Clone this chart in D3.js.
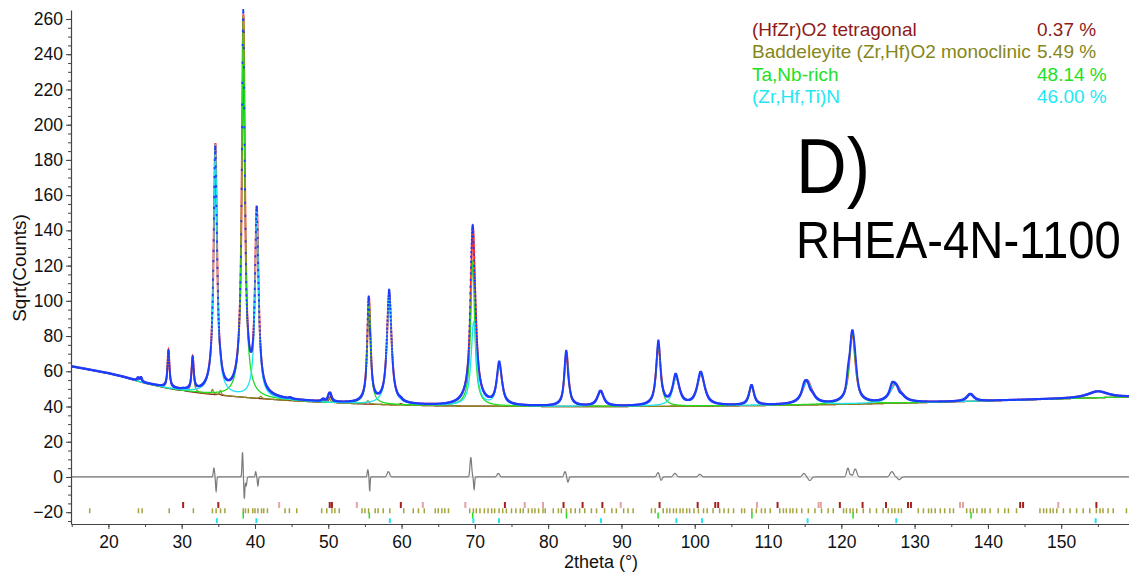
<!DOCTYPE html>
<html><head><meta charset="utf-8">
<script src="https://cdn.jsdelivr.net/npm/d3@7"></script>
<style>
body{margin:0;background:#fff}
svg text{font-family:"Liberation Sans",Arial,sans-serif;fill:#111}
</style>
</head><body>
<svg id="chart" width="1129" height="572"></svg>
<script>
// ---------------- data ----------------
const xDomain = [14.9, 159.25];
const yDomain = [-26.7, 265.1];
const xTickValues = [20,30,40,50,60,70,80,90,100,110,120,130,140,150];
const yTickValues = [-20,0,20,40,60,80,100,120,140,160,180,200,220,240,260];
const xTitle = "2theta (°)";
const yTitle = "Sqrt(Counts)";
const panelLabel = "D)";
const sampleLabel = "RHEA-4N-1100";

const phaseNames = ["(HfZr)O2 tetragonal","Baddeleyite (Zr,Hf)O2 monoclinic","Ta,Nb-rich","(Zr,Hf,Ti)N"];
const phasePercents = ["0.37 %","5.49 %","48.14 %","46.00 %"];

// background (2theta, sqrt counts)
const backgroundPts = [[14.9,62.8],[17,61.2],[20,58.8],[22,56.8],[25,53.2],[28,50.4],[30,49],[33,47.4],[36,46.1],[40,44.7],[45,43.3],[50,42.2],[55,41.4],[60,40.8],[65,40.4],[70,40.2],[80,40],[90,40],[100,40.2],[110,40.6],[120,41.2],[130,42.1],[140,43.2],[150,44.4],[159.25,45.5]];

// peaks: [2theta, top (sqrt counts), fwhm]
const peaksTetragonal = [[30.2,49.2,0.35],[35.1,47.2,0.4],[50.3,45.6,0.45],[59.9,41.6,0.5]];
const peaksMonoclinic = [[24.05,56,0.3],[24.45,56.2,0.3],[28.2,71.5,0.3],[31.5,67,0.32],[34.2,49.6,0.3],[35.3,49,0.3],[40.8,45.8,0.35],[44.8,44,0.4],[49.3,43.6,0.4],[50.1,45,0.4],[55.4,43.2,0.45]];
const peaksTaNb = [[38.42,262,0.36],[55.55,101,0.44],[69.7,122,0.52],[82.5,70.5,0.58],[95.05,74.5,0.66],[107.75,51.8,0.75],[121.5,82,0.85],[137.6,47,1.1]];
const peaksNitride = [[34.6,189,0.42],[40.25,151.5,0.45],[58.32,103.5,0.62],[69.85,88,0.72],[73.35,63,0.78],[87.15,48.6,0.95],[97.45,55.8,1.05],[100.85,58,1.15],[115.35,54.5,1.45],[127.4,52.5,1.7],[155,48.6,3.2]];

// difference features: [2theta, amplitude, half-width]
const diffFeatures = [[34.4,5,0.12],[34.7,-8,0.1],[38.3,14,0.1],[38.55,-12,0.1],[38.8,-5,0.12],[40.1,3,0.1],[40.4,-5,0.1],[55.4,4,0.12],[55.65,-8,0.08],[58.2,3,0.25],[69.45,11,0.16],[69.9,-7,0.1],[73.2,2,0.25],[82.3,3,0.2],[82.7,-3,0.15],[95.0,2.5,0.25],[95.4,-2,0.2],[97.3,2,0.3],[100.7,1.5,0.3],[114.9,2,0.3],[115.7,-2,0.3],[120.9,5,0.25],[121.35,1,0.12],[121.9,4.5,0.3],[126.9,3,0.35],[127.9,-1.5,0.3]];

// reflection tick positions
const ticksTetragonal = [[30.2,1],[35.0,1],[43.3,0],[50.2,1],[50.5,1],[53.9,0],[59.9,1],[62.9,0],[68.7,0],[74.1,1],[76.8,0],[79.3,0],[82.1,1],[84.7,1],[87.4,1],[89.9,0],[95.2,1],[100.4,1],[102.8,1],[103.2,1],[108.5,0],[111.3,1],[116.9,0],[117.2,0],[119.8,1],[122.9,1],[126.1,1],[129.1,1],[129.5,1],[136.2,0],[136.6,0],[144.4,1],[144.8,1],[149.6,0],[154.8,1]];
const ticksMonoclinic = [17.45,24.1,24.6,28.3,31.6,34.2,34.7,35.3,35.9,38.4,38.7,39.1,39.7,40.0,40.4,40.9,41.2,41.7,44.1,44.7,45.7,49.1,49.8,50.5,50.9,51.5,54.6,55.0,55.5,56.4,56.8,57.5,58.4,60.3,61.6,62.3,63.1,64.6,65.0,65.5,65.9,66.4,69.3,69.8,70.2,70.7,71.3,71.8,72.3,72.7,73.3,73.8,74.3,75.0,75.6,76.2,76.6,77.3,77.8,78.2,78.7,79.3,79.6,80.7,81.4,81.8,82.5,83.1,83.7,84.3,85.0,85.9,86.6,87.7,88.7,89.3,90.3,90.9,91.6,94.1,94.6,95.7,96.2,96.6,97.1,97.5,98.0,98.4,98.9,99.3,99.9,100.5,101.2,101.7,102.5,103.4,104.0,104.6,105.3,106.4,106.8,107.8,108.4,109.1,109.6,110.3,111.6,112.1,112.5,113.0,113.4,113.9,114.6,115.5,116.4,117.3,118.2,118.9,120.3,120.7,121.2,121.6,122.1,123.0,123.9,124.8,125.7,126.4,126.9,127.3,127.8,128.2,130.5,131.2,131.9,132.3,132.8,133.5,134.1,134.8,135.3,137.1,137.6,138.0,138.5,139.2,139.6,140.3,141.4,142.3,142.8,143.9,147.1,147.6,148.0,148.5,148.9,149.4,150.3,151.2,152.1,153.0,153.9,154.8,155.3,155.7,156.4,157.1,158.9];
const ticksTaNb = [38.4,55.6,69.7,82.5,95.0,107.8,121.6,137.7];
const ticksNitride = [34.8,40.2,58.4,69.8,73.3,87.2,97.5,101.0,115.4,127.5,154.7];

// ---------------- drawing ----------------
const colors = {tet:"#8e1b1b", mono:"#8a8a1c", tanb:"#22dd22", nit:"#1fe4f0", obs:"#1c3cff", calc:"#ff2a2a", diff:"#7a7a7a"};
const svg = d3.select("#chart");
const x = d3.scaleLinear().domain(xDomain).range([71,1129]);
const y = d3.scaleLinear().domain(yDomain).range([524,10]);

svg.append("defs").append("clipPath").attr("id","clip")
  .append("rect").attr("x",71).attr("y",8).attr("width",1058).attr("height",516);
const plot = svg.append("g").attr("clip-path","url(#clip)");

const bg = d3.scaleLinear().domain(backgroundPts.map(d=>d[0])).range(backgroundPts.map(d=>d[1]));
function shape(dx,w){const t=2*dx/w; return 0.85/(1+t*t)+0.15*Math.exp(-Math.LN2*t*t);}
function phaseCounts(peaks,t){
  let s=0;
  for(const [p,top,w] of peaks){const b=bg(p); const P=Math.max(0,top*top-b*b); s+=P*shape(t-p,w);}
  return s;
}
function diffAt(t){let s=0; for(const [p,a,w] of diffFeatures){const u=(t-p)/w; s+=a*Math.exp(-u*u);} return s;}

const grid = d3.range(xDomain[0], xDomain[1]+1e-9, 0.02);
const rows = grid.map(t=>{
  const b=bg(t), b2=b*b;
  const c1=phaseCounts(peaksTetragonal,t), c2=phaseCounts(peaksMonoclinic,t),
        c3=phaseCounts(peaksTaNb,t), c4=phaseCounts(peaksNitride,t);
  const calc=Math.sqrt(b2+c1+c2+c3+c4);
  const d=diffAt(t);
  return {t, bg:b, tet:Math.sqrt(b2+c1), mono:Math.sqrt(b2+c2), tanb:Math.sqrt(b2+c3), nit:Math.sqrt(b2+c4), calc, diff:d, obs:calc+d};
});

// difference zero line and curve
plot.append("line").attr("x1",71).attr("x2",1129).attr("y1",y(0)).attr("y2",y(0))
  .attr("stroke","#c8c8c8").attr("stroke-width",1);
plot.append("path").datum(rows).attr("fill","none").attr("stroke",colors.diff).attr("stroke-width",1.2)
  .attr("d",d3.line().x(d=>x(d.t)).y(d=>y(d.diff)));

// reflection ticks
const tickG = plot.append("g");
tickG.selectAll(".tt").data(ticksTetragonal).join("line")
  .attr("x1",d=>x(d[0])).attr("x2",d=>x(d[0])).attr("y1",y(-14.2)).attr("y2",y(-17.6))
  .attr("stroke",d=>d[1]?"#a32020":"#e3a3a3").attr("stroke-width",2);
tickG.selectAll(".tm").data(ticksMonoclinic).join("line")
  .attr("x1",d=>x(d)).attr("x2",d=>x(d)).attr("y1",y(-17.8)).attr("y2",y(-20.6))
  .attr("stroke","#a3a33a").attr("stroke-width",1.5);
tickG.selectAll(".tg").data(ticksTaNb).join("line")
  .attr("x1",d=>x(d)).attr("x2",d=>x(d)).attr("y1",y(-20.2)).attr("y2",y(-23.6))
  .attr("stroke",colors.tanb).attr("stroke-width",1.5);
tickG.selectAll(".tc").data(ticksNitride).join("line")
  .attr("x1",d=>x(d)).attr("x2",d=>x(d)).attr("y1",y(-23.4)).attr("y2",y(-26.2))
  .attr("stroke",colors.nit).attr("stroke-width",2);

// calc and phases
const lineOf = key => d3.line().x(d=>x(d.t)).y(d=>y(d[key]));
plot.append("path").datum(rows).attr("fill","none").attr("stroke",colors.calc).attr("stroke-width",2).attr("d",lineOf("calc"));
[["tet",colors.tet],["mono",colors.mono],["tanb",colors.tanb],["nit",colors.nit]].forEach(([k,c])=>{
  plot.append("path").datum(rows).attr("fill","none").attr("stroke",c).attr("stroke-width",1.3).attr("d",lineOf(k));
});
// observed points
let pd="";
for(const r of rows){pd+=`M${(x(r.t)-0.9).toFixed(2)},${y(r.obs).toFixed(2)}h1.8`;}
plot.append("path").attr("d",pd).attr("stroke",colors.obs).attr("stroke-width",2.2).attr("fill","none");

// axes
const axisColor="#444";
svg.append("g").attr("transform","translate(71,0)")
  .call(d3.axisLeft(y).tickValues(yTickValues).tickSize(5).tickSizeOuter(0).tickPadding(3));
svg.append("g").attr("transform","translate(71,0)")
  .call(d3.axisLeft(y).tickValues(d3.range(-25,265,5)).tickSize(3).tickFormat("").tickSizeOuter(0))
  .call(g=>g.select(".domain").remove());
svg.append("g").attr("transform","translate(0,524)")
  .call(d3.axisBottom(x).tickValues(xTickValues).tickSize(5).tickSizeOuter(0).tickPadding(6.5));
svg.append("g").attr("transform","translate(0,524)")
  .call(d3.axisBottom(x).tickValues(d3.range(15,160,5)).tickSize(3).tickFormat("").tickSizeOuter(0))
  .call(g=>g.select(".domain").remove());
svg.selectAll(".domain").attr("stroke",axisColor).attr("stroke-width",1.2);
svg.selectAll(".tick line").attr("stroke",axisColor);
svg.selectAll(".tick text").attr("font-size",17.5).attr("font-family","Liberation Sans, Arial, sans-serif").attr("fill","#111");

svg.append("text").attr("x",601).attr("y",568).attr("text-anchor","middle").attr("font-size",18).text(xTitle);
svg.append("text").attr("transform","translate(26,268) rotate(-90)").attr("text-anchor","middle").attr("font-size",19).text(yTitle);

// legend
const legColors=[colors.tet,"#86861a","#22e022","#1fe8f4"];
phaseNames.forEach((n,i)=>{
  svg.append("text").attr("x",752).attr("y",36+i*22.4).attr("font-size",19).style("fill",legColors[i]).text(n);
  svg.append("text").attr("x",1037).attr("y",36+i*22.4).attr("font-size",19).style("fill",legColors[i]).text(phasePercents[i]);
});

// panel labels
svg.append("text").attr("transform","translate(796,193) scale(0.9,1)").attr("font-size",78).style("fill","#000").text(panelLabel);
svg.append("text").attr("transform","translate(796,258) scale(0.945,1.05)").attr("font-size",50).style("fill","#000").text(sampleLabel);
</script>
</body></html>
